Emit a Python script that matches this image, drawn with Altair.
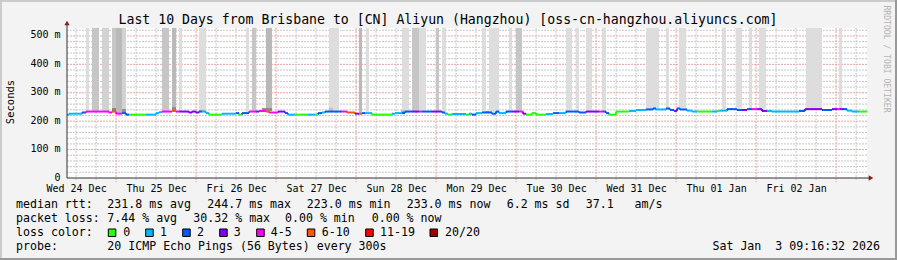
import altair as alt
import pandas as pd

# ---------------- texts ----------------
TITLE = "Last 10 Days from Brisbane to [CN] Aliyun (Hangzhou) [oss-cn-hangzhou.aliyuncs.com]"
Y_TITLE = "Seconds"
SIDE_TEXT = "RRDTOOL / TOBI OETIKER"

# time axis: hours since Wed 24 Dec 09:16:32 (10 days shown)
SPAN_H = 240
FIRST_NOON_H = 2.724       # Wed 24 Dec 12:00
FIRST_MIDNIGHT_H = 14.724  # Thu 25 Dec 00:00
day_labels = ["Wed 24 Dec", "Thu 25 Dec", "Fri 26 Dec", "Sat 27 Dec", "Sun 28 Dec",
              "Mon 29 Dec", "Tue 30 Dec", "Wed 31 Dec", "Thu 01 Jan", "Fri 02 Jan"]

y_ticks_ms = [0, 100, 200, 300, 400, 500]
Y_MAX = 528

# ---------------- median rtt (step segments) ----------------
seg_start_h = [0.0, 0.6, 4.5, 5.7, 12.6, 13.5, 14.7, 16.5, 17.7, 18.6,
               23.7, 26.7, 27.6, 28.5, 31.5, 32.7, 33.6, 36.6, 37.5, 38.7,
               39.6, 40.5, 41.7, 42.6, 46.5, 50.7, 51.6, 52.5, 54.6, 56.7,
               57.6, 59.7, 60.6, 63.3, 65.4, 66.3, 68.4, 72.3, 74.4, 75.3,
               76.5, 77.4, 82.5, 84.0, 86.4, 87.6, 88.5, 89.4, 91.5, 97.5,
               98.4, 100.5, 101.4, 103.5, 105.6, 106.5, 109.5, 112.5, 113.4, 114.3,
               115.5, 119.7, 120.6, 121.5, 122.7, 124.5, 127.5, 128.7, 129.6, 131.7,
               133.5, 135.6, 136.8, 137.7, 139.5, 140.7, 143.7, 145.8, 147.6, 149.7,
               153.6, 155.7, 159.6, 160.8, 161.7, 162.6, 164.7, 168.6, 170.7, 173.7,
               175.8, 176.7, 179.7, 180.9, 182.1, 183.0, 183.9, 186.0, 187.5, 189.0,
               193.5, 195.0, 195.9, 198.0, 201.0, 202.5, 204.0, 205.5, 207.0, 208.5,
               210.0, 211.5, 219.6, 221.4, 226.5, 229.5, 231.0, 231.9, 233.1, 234.0,
               235.5, 237.6]
seg_ms = [223.0, 226.3, 230.6, 233.9, 230.6, 233.9, 226.3, 228.4, 223.0, 223.0,
          223.0, 228.4, 231.7, 233.9, 236.0, 233.9, 233.9, 230.6, 233.9, 230.6,
          233.9, 233.9, 228.4, 223.0, 226.3, 228.4, 223.0, 228.4, 233.9, 233.9,
          236.0, 233.9, 230.6, 233.9, 228.4, 223.0, 223.0, 223.0, 223.0, 228.4,
          230.6, 233.9, 233.9, 230.6, 226.3, 226.3, 228.4, 228.4, 223.0, 226.3,
          228.4, 228.4, 233.9, 233.9, 233.9, 233.9, 233.9, 230.6, 226.3, 223.0,
          225.2, 223.0, 226.3, 223.0, 228.4, 230.6, 226.3, 233.9, 228.4, 233.9,
          233.9, 233.9, 226.3, 223.0, 228.4, 223.0, 225.2, 228.4, 228.4, 233.9,
          230.6, 233.9, 233.9, 233.9, 228.4, 223.0, 233.9, 236.0, 239.3, 241.4,
          244.7, 241.4, 244.7, 239.3, 236.0, 244.7, 241.4, 237.1, 233.9, 233.9,
          233.9, 236.0, 237.1, 242.5, 239.3, 239.3, 242.5, 242.5, 242.5, 236.0,
          236.0, 233.9, 236.0, 242.5, 239.3, 242.5, 242.5, 242.5, 242.5, 237.1,
          233.9, 233.9]
seg_loss = [1, 1, 2, 4, 4, 5, 4, 2, 2, 0,
            1, 1, 1, 4, 5, 4, 3, 3, 3, 3,
            2, 1, 1, 0, 1, 2, 0, 2, 4, 3,
            4, 5, 4, 3, 2, 1, 0, 1, 0, 2,
            1, 2, 4, 5, 3, 5, 2, 1, 0, 1,
            1, 2, 2, 3, 4, 2, 3, 2, 1, 0,
            1, 0, 1, 2, 1, 2, 2, 2, 1, 2,
            3, 4, 3, 0, 0, 0, 1, 2, 1, 2,
            2, 3, 4, 2, 2, 0, 0, 1, 1, 2,
            2, 1, 2, 2, 3, 2, 2, 1, 1, 0,
            1, 0, 1, 2, 2, 3, 2, 4, 3, 3,
            1, 1, 2, 3, 2, 3, 4, 3, 2, 1,
            1, 0]

loss_labels = ["0", "1", "2", "3", "4-5", "6-10", "11-19", "20/20"]
loss_colors = ["#26ff00", "#00b8ff", "#0059ff", "#7e00ff", "#ff00ff", "#ff5500", "#ff0000", "#a10000"]

# ---------------- smoke (tall bands caused by lost pings) ----------------
band_start_h = [5.7, 7.5, 10.5, 13.5, 14.7, 16.5, 28.5, 31.5, 33.6, 39.6,
                53.7, 55.5, 59.7, 78.6, 87.6, 89.7, 100.5, 103.5, 105.6, 110.7,
                112.5, 124.5, 126.6, 132.6, 134.7, 149.7, 152.7, 155.7, 160.5, 173.7,
                179.7, 183.6, 196.5, 200.7, 204.6, 207.6, 221.7, 231.6]
band_end_h = [6.6, 9.6, 12.6, 14.7, 16.5, 17.7, 30.6, 32.7, 34.5, 41.7,
              54.6, 56.7, 61.5, 81.6, 88.5, 90.6, 102.6, 105.6, 107.7, 111.6,
              113.7, 125.7, 129.6, 133.5, 136.5, 151.5, 153.6, 157.5, 161.7, 177.6,
              180.6, 185.7, 197.7, 202.5, 205.5, 209.7, 226.5, 232.5]
band_shade = [1, 3, 2, 3, 4, 2, 3, 4, 1, 1,
              1, 3, 4, 1, 4, 1, 1, 3, 1, 3,
              1, 1, 1, 1, 3, 1, 1, 1, 1, 1,
              1, 1, 1, 1, 1, 1, 1, 1]
shade_colors = {1: "#dddddd", 2: "#d2d2d2", 3: "#c6c6c6", 4: "#b9b9b9"}

# small smoke patches just around the median
blob_start_h = [13.5, 16.5, 31.5, 58.5, 39.6, 78.6, 100.2, 125.7]
blob_end_h = [14.7, 17.7, 32.7, 61.5, 41.4, 79.8, 101.4, 126.6]
blob_lo_ms = [236, 231, 239, 236, 233, 236, 230, 230]
blob_hi_ms = [246, 243, 249, 246, 240, 247, 238, 236]
blob_color = ["#808080", "#909090", "#888888", "#888888", "#bbbbbb", "#c0c0c0", "#a8a8a8", "#999999"]

# ---------------- legend texts ----------------
rtt_items = ["median rtt:", "231.8 ms avg", "244.7 ms max", "223.0 ms min",
             "233.0 ms now", "6.2 ms sd", "37.1   am/s"]
loss_items = ["packet loss:", "7.44 % avg", "30.32 % max", "0.00 % min", "0.00 % now"]
loss_color_title = "loss color:"
probe_items = ["probe:", "20 ICMP Echo Pings (56 Bytes) every 300s"]
stamp = "Sat Jan  3 09:16:32 2026"

# ---------------- layout (pixels) ----------------
W, H = 800, 150
PL, PT = 67, 28
MONO = "DejaVu Sans Mono"

rtt_x = [16, 107.3, 207.3, 306.8, 406.7, 506.7, 585.7]
loss_x = [16, 107.3, 193.3, 285, 371.7]
probe_x = [16, 107.3]
sq_x = [108.3, 145.7, 182.7, 219.7, 256.7, 307.3, 365.7, 430]
sq_lbl_x = [123.3, 160, 197, 233.7, 270.7, 321.7, 380, 445]
row_y = [208.3, 222.3, 236.3, 250.3]

xs = alt.Scale(domain=[0, SPAN_H], nice=False, zero=False)
ys = alt.Scale(domain=[0, Y_MAX], nice=False, zero=False)

one = pd.DataFrame({"a": [0]})


def txt(s, xa, yb, size=11.6, align="left", color="black", angle=0, baseline="alphabetic"):
    return alt.Chart(one).mark_text(
        text=s.replace(" ", "\u00a0"), align=align, baseline=baseline, font=MONO,
        fontSize=size, color=color, angle=angle
    ).encode(x=alt.value(xa - PL), y=alt.value(yb - PT))


# grid values
minor_h = [FIRST_NOON_H + 6 * k for k in range(0, 40)]
minor_h = [v for v in minor_h if 0 < v < SPAN_H and abs(((v - FIRST_MIDNIGHT_H) / 24) - round((v - FIRST_MIDNIGHT_H) / 24)) > 0.01]
major_h = [FIRST_MIDNIGHT_H + 24 * k for k in range(0, 10) if FIRST_MIDNIGHT_H + 24 * k < SPAN_H]
noon_h = [FIRST_NOON_H + 24 * k for k in range(len(day_labels))]
minor_ms = [v for v in range(20, Y_MAX, 20) if v % 100 != 0]
major_ms = [v for v in y_ticks_ms if v > 0]

# median segments
seg_end_h = seg_start_h[1:] + [SPAN_H]
med = pd.DataFrame({"s": seg_start_h, "e": seg_end_h, "ms": seg_ms,
                    "c": [loss_colors[i] for i in seg_loss]})
conn = pd.DataFrame({"s": seg_start_h[1:], "a": seg_ms[:-1], "b": seg_ms[1:],
                     "c": [loss_colors[i] for i in seg_loss[1:]]})


def median_at(h):
    v = seg_ms[0]
    for s, m in zip(seg_start_h, seg_ms):
        if s <= h + 1e-9:
            v = m
    return v


bands = pd.DataFrame({"s": band_start_h, "e": band_end_h,
                      "lo": [median_at(h) + 1.5 for h in band_start_h],
                      "hi": [Y_MAX] * len(band_start_h),
                      "c": [shade_colors[k] for k in band_shade]})
blobs = pd.DataFrame({"s": blob_start_h, "e": blob_end_h, "lo": blob_lo_ms,
                      "hi": blob_hi_ms, "c": blob_color})

label_expr = "[" + ",".join("'" + d + "'" for d in day_labels) + "]" + \
    f"[round((datum.value - {FIRST_NOON_H}) / 24)]"

x_axis = alt.Axis(values=noon_h, labelExpr=label_expr, ticks=False, domain=False, grid=False,
                  title=None, labelFlush=False, labelOverlap=False, labelPadding=5,
                  labelFont=MONO, labelFontSize=10, labelColor="black", labelBound=False)
y_axis = alt.Axis(values=y_ticks_ms, labelExpr="datum.value == 0 ? '0' : datum.value + ' m'",
                  ticks=False, domain=False, grid=False, title=None, labelPadding=7,
                  labelFont=MONO, labelFontSize=10, labelColor="black", labelBound=False,
                  labelFlush=False, labelOverlap=False, labelOffset=-1)


def X(f):
    return alt.X(f, scale=xs, axis=x_axis)


def Y(f):
    return alt.Y(f, scale=ys, axis=y_axis)


# grid layers
g_minor_h = alt.Chart(pd.DataFrame({"v": minor_ms})).mark_rule(
    color="#c8c8c8", strokeWidth=1, strokeDash=[2, 1]).encode(
    y=Y("v:Q"), x=alt.value(0), x2=alt.value(W))
g_major_h = alt.Chart(pd.DataFrame({"v": major_ms})).mark_rule(
    color="#e8a4a4", strokeWidth=1, strokeDash=[2, 1]).encode(
    y=Y("v:Q"), x=alt.value(0), x2=alt.value(W))
g_minor_v = alt.Chart(pd.DataFrame({"v": minor_h})).mark_rule(
    color="#c8c8c8", strokeWidth=1, strokeDash=[2, 1]).encode(
    x=X("v:Q"), y=alt.value(0), y2=alt.value(H + 2))
g_major_v = alt.Chart(pd.DataFrame({"v": major_h})).mark_rule(
    color="#e8a4a4", strokeWidth=1, strokeDash=[2, 1]).encode(
    x=X("v:Q"), y=alt.value(0), y2=alt.value(H + 4))

band_layer = alt.Chart(bands).mark_rect().encode(
    x=X("s:Q"), x2="e:Q", y=Y("lo:Q"), y2="hi:Q",
    color=alt.Color("c:N", scale=None))
blob_layer = alt.Chart(blobs).mark_rect().encode(
    x=X("s:Q"), x2="e:Q", y=Y("lo:Q"), y2="hi:Q",
    color=alt.Color("c:N", scale=None))

med_layer = alt.Chart(med).mark_rule(strokeWidth=2).encode(
    x=X("s:Q"), x2="e:Q", y=Y("ms:Q"),
    color=alt.Color("c:N", scale=None))
conn_layer = alt.Chart(conn).mark_rule(strokeWidth=2).encode(
    x=X("s:Q"), y=Y("a:Q"), y2="b:Q",
    color=alt.Color("c:N", scale=None))

# axis lines and arrows
axis_col = "#303030"
y_line = alt.Chart(one).mark_rule(color=axis_col, strokeWidth=1).encode(
    x=alt.value(0), y=alt.value(H), y2=alt.value(-4))
x_line = alt.Chart(one).mark_rule(color=axis_col, strokeWidth=1).encode(
    x=alt.value(0), x2=alt.value(W + 3), y=alt.value(H))
arrow_up = alt.Chart(one).mark_point(shape="triangle-up", filled=True, color="#8b1c1c", size=28, opacity=1).encode(
    x=alt.value(0), y=alt.value(-5))
arrow_rt = alt.Chart(one).mark_point(shape="triangle-right", filled=True, color="#8b1c1c", size=28, opacity=1).encode(
    x=alt.value(W + 4), y=alt.value(H))

# frame
TW, TH = 897, 260
frame = [
    alt.Chart(one).mark_rule(color="#cbcbcb", strokeWidth=2).encode(
        x=alt.value(-PL), x2=alt.value(TW - PL), y=alt.value(1 - PT)),
    alt.Chart(one).mark_rule(color="#cbcbcb", strokeWidth=2).encode(
        x=alt.value(1 - PL), y=alt.value(-PT), y2=alt.value(TH - PT)),
    alt.Chart(one).mark_rule(color="#999999", strokeWidth=2).encode(
        x=alt.value(-PL), x2=alt.value(TW - PL), y=alt.value(TH - 1 - PT)),
    alt.Chart(one).mark_rule(color="#999999", strokeWidth=2).encode(
        x=alt.value(TW - 1 - PL), y=alt.value(-PT), y2=alt.value(TH - PT)),
]

texts = [
    txt(TITLE, 448, 24, size=13.2, align="center"),
    txt(Y_TITLE, 10.7, 102, size=10.5, align="center", angle=270, baseline="middle"),
    txt(SIDE_TEXT, 886, 59, size=8.1, align="center", angle=90, color="#b4b4b4", baseline="middle"),
]
for s, x in zip(rtt_items, rtt_x):
    texts.append(txt(s, x, row_y[0]))
for s, x in zip(loss_items, loss_x):
    texts.append(txt(s, x, row_y[1]))
texts.append(txt(loss_color_title, 16, row_y[2]))
for s, x in zip(loss_labels, sq_lbl_x):
    texts.append(txt(s, x, row_y[2]))
for s, x in zip(probe_items, probe_x):
    texts.append(txt(s, x, row_y[3]))
texts.append(txt(stamp, 880, row_y[3], align="right"))

squares = []
for c, x in zip(loss_colors, sq_x):
    squares.append(alt.Chart(one).mark_rect(fill=c, stroke="black", strokeWidth=1).encode(
        x=alt.value(x - PL), x2=alt.value(x + 7.5 - PL),
        y=alt.value(229 - PT), y2=alt.value(236.5 - PT)))

chart = alt.layer(
    g_minor_h, g_major_h, g_minor_v, g_major_v,
    band_layer, blob_layer, conn_layer, med_layer,
    y_line, x_line, arrow_up, arrow_rt,
    *frame, *texts, *squares
).properties(
    width=W, height=H,
    padding={"left": PL, "top": PT, "right": TW - PL - W, "bottom": TH - PT - H},
    autosize=alt.AutoSizeParams(type="none"),
    background="#f3f3f3",
).configure_view(stroke=None, fill="white")

chart.save("out.html", embed_options={"renderer": "svg", "actions": False})
